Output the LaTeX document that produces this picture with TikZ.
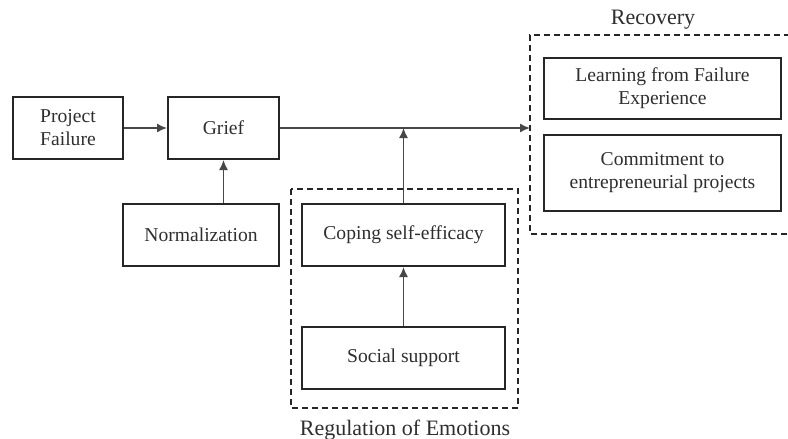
\documentclass[tikz,border=0pt]{standalone}
\usepackage{fontspec}
\setmainfont{Liberation Serif}
\usetikzlibrary{arrows.meta}
\definecolor{ink}{HTML}{262626}
\definecolor{txt}{HTML}{2E2E2E}
\tikzset{
  box/.style={draw=ink, line width=1pt, rectangle, inner sep=0pt, align=center,
    text=txt, font=\fontsize{9.8}{11.5}\selectfont},
  group/.style={draw=ink, line width=1pt, dash pattern=on 3pt off 2pt},
  arr/.style={draw=ink!85, line width=0.75pt, -{Latex[length=5pt,width=4.5pt]}},
  grouplabel/.style={text=txt, font=\fontsize{11}{12}\selectfont, inner sep=0pt},
}
\begin{document}
\begin{tikzpicture}[x=0.5pt, y=-0.5pt]
  \useasboundingbox (0,0) rectangle (788,439);
  % dashed group frames
  \draw[group] (291,189) rectangle (518,408);
  \draw[group] (800,35) -- (530,35) -- (530,234) -- (800,234);
  \node[grouplabel] (reclabel) at (653,20) {Recovery};
  \node[grouplabel] (reglabel) at (405,430) {Regulation of Emotions};
  % boxes
  \node[box, minimum width=55pt, minimum height=31pt] (pf) at (68,128) {Project\\Failure};
  \node[box, minimum width=55.5pt, minimum height=31pt] (grief) at (223.5,128) {Grief};
  \node[box, minimum width=78pt, minimum height=31pt] (norm) at (201,235) {Normalization};
  \node[box, minimum width=101.5pt, minimum height=31pt] (coping) at (403.5,235) {Coping self-efficacy};
  \node[box, minimum width=101.5pt, minimum height=31pt] (social) at (403.5,358) {Social support};
  \node[box, minimum width=118.5pt, minimum height=30.5pt] (learn) at (662.5,88.5) {Learning from Failure\\Experience};
  \node[box, minimum width=118.5pt, minimum height=38pt] (commit) at (662.5,173) {Commitment to\\entrepreneurial projects};
  % connectors
  \coordinate (recin) at (530,128);
  \draw[arr] (pf) -- (grief);
  \draw[arr] (grief.east) -- (recin);
  \draw[arr] (norm.north -| grief.south) -- (grief.south);
  \draw[arr] (coping.north) -- (coping.north |- recin);
  \draw[arr] (social.north) -- (coping.south);
\end{tikzpicture}
\end{document}
